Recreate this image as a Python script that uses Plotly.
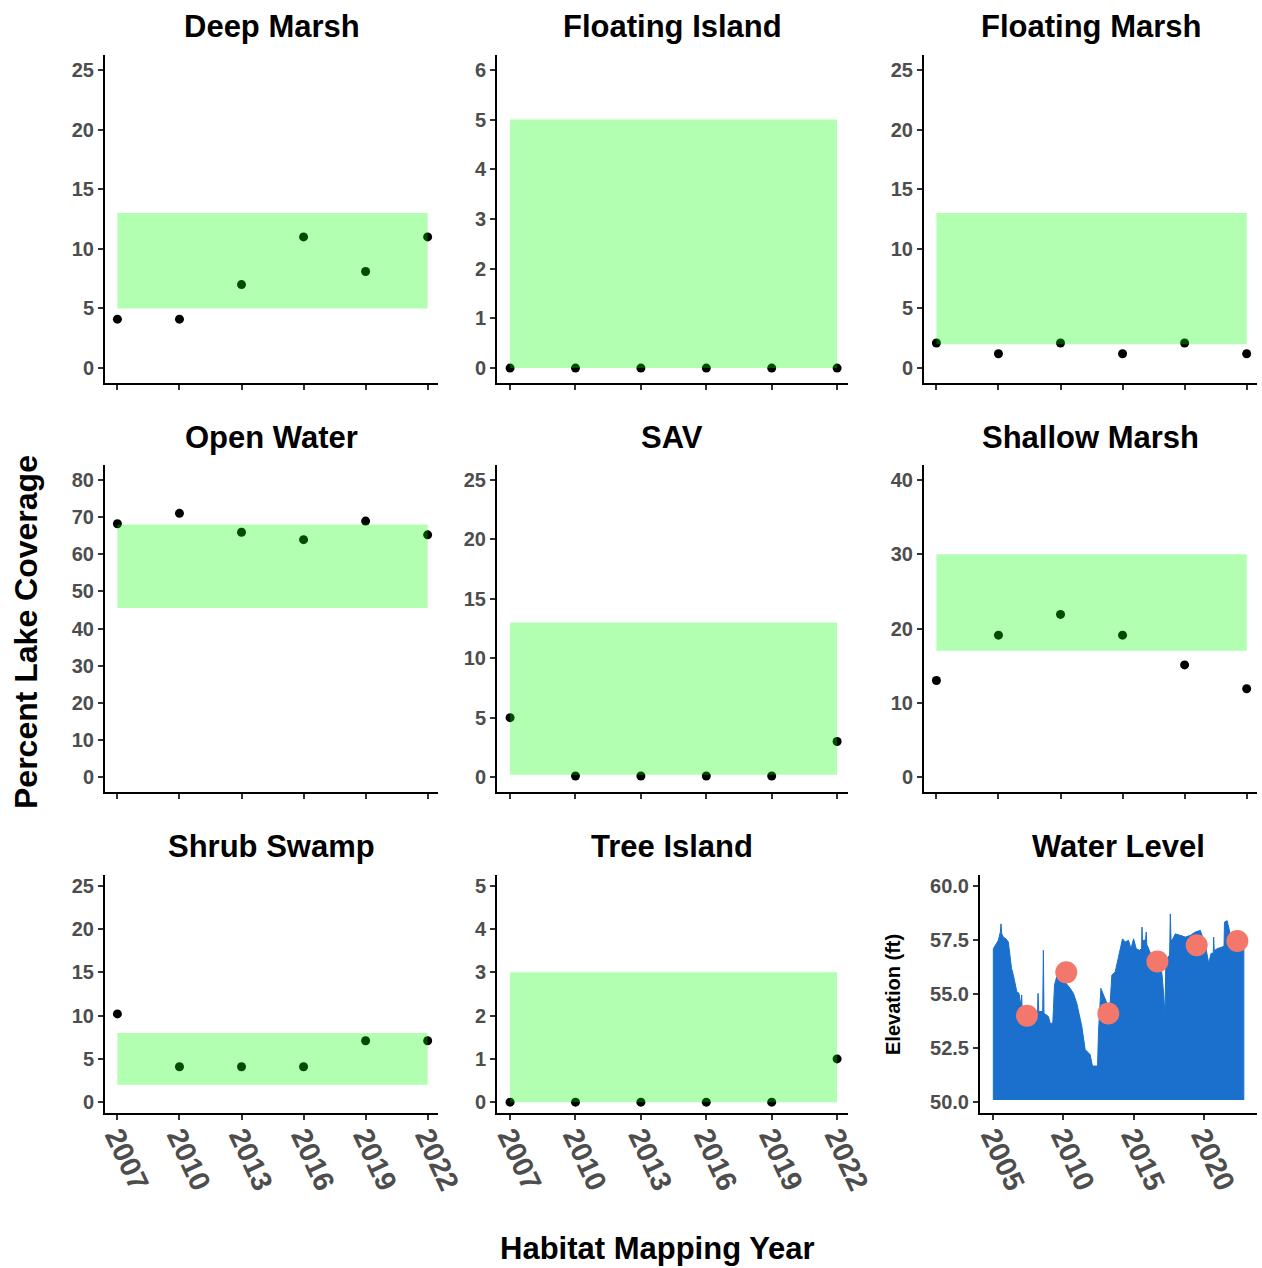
import plotly.graph_objects as go

# ---------------- data ----------------
years = [2007, 2010, 2013, 2016, 2019, 2022]
habitats = ["Deep Marsh", "Floating Island", "Floating Marsh", "Open Water",
            "SAV", "Shallow Marsh", "Shrub Swamp", "Tree Island"]
deep_marsh = [4.1, 4.1, 7.0, 11.0, 8.1, 11.0]
floating_island = [0.0, 0.0, 0.0, 0.0, 0.0, 0.0]
floating_marsh = [2.1, 1.2, 2.1, 1.2, 2.1, 1.2]
open_water = [68.2, 71.0, 65.9, 63.9, 68.9, 65.2]
sav = [5.0, 0.1, 0.1, 0.1, 0.1, 3.0]
shallow_marsh = [13.0, 19.1, 21.9, 19.1, 15.1, 11.9]
shrub_swamp = [10.2, 4.1, 4.1, 4.1, 7.1, 7.1]
tree_island = [0.0, 0.0, 0.0, 0.0, 0.0, 1.0]
target_low = [5, 0, 2, 45.5, 0.2, 17, 2, 0]
target_high = [13, 5, 13, 68, 13, 30, 8, 3]
y_max = [25, 6, 25, 80, 25, 40, 25, 5]
y_dtick = [5, 1, 5, 10, 5, 10, 5, 1]

wl_year = [2005.0, 2005.36, 2005.5, 2005.55, 2005.6, 2005.71, 2005.9, 2006.07, 2006.19, 2006.3,
           2006.43, 2006.55, 2006.67, 2006.83, 2006.98, 2007.02, 2007.06, 2007.26, 2007.5, 2007.86,
           2008.15, 2008.19, 2008.24, 2008.52, 2008.57, 2008.61, 2008.93, 2009.05, 2009.24, 2009.29,
           2009.36, 2009.52, 2010.0, 2010.48, 2010.71, 2010.95, 2011.14, 2011.31, 2011.55, 2011.9,
           2012.07, 2012.43, 2012.5, 2012.67, 2012.86, 2013.1, 2013.33, 2013.45, 2013.69, 2013.93,
           2014.21, 2014.4, 2014.64, 2014.81, 2015.0, 2015.19, 2015.43, 2015.57, 2015.6, 2015.64,
           2015.71, 2015.86, 2015.9, 2015.94, 2016.07, 2016.31, 2016.79, 2017.02, 2017.14, 2017.24,
           2017.3, 2017.57, 2017.62, 2017.67, 2017.74, 2017.98, 2018.33, 2018.69, 2019.05, 2019.4,
           2019.76, 2020.12, 2020.36, 2020.52, 2020.68, 2020.71, 2020.75, 2020.95, 2021.31, 2021.45,
           2021.48, 2021.67, 2021.86, 2022.02, 2022.38, 2022.86]
wl_elev = [57.09, 57.48, 57.86, 58.24, 57.78, 57.63, 57.55, 57.40, 56.64, 56.18,
           55.87, 55.49, 55.11, 55.03, 54.42, 54.95, 54.19, 53.96, 53.80, 54.11,
           54.19, 55.03, 54.19, 54.19, 57.02, 54.11, 53.96, 53.65, 53.65, 54.34,
           55.41, 55.80, 55.64, 55.26, 55.03, 54.57, 53.96, 53.50, 52.43, 52.20,
           51.67, 51.67, 53.27, 55.26, 54.95, 54.57, 54.57, 55.87, 56.02, 56.71,
           57.55, 57.40, 57.48, 57.09, 57.55, 57.09, 57.02, 57.10, 58.09, 57.40,
           57.48, 57.50, 57.86, 57.30, 57.09, 56.71, 56.56, 55.95, 55.03, 54.04,
           56.56, 56.80, 58.70, 57.50, 57.48, 57.78, 57.71, 57.63, 57.71, 57.86,
           57.94, 57.25, 56.41, 56.87, 56.90, 57.63, 57.00, 57.09, 57.17, 57.20,
           58.32, 58.39, 57.86, 57.48, 57.40, 57.32]
wl_base = 50.1
map_year = [2007.4, 2010.2, 2013.2, 2016.7, 2019.5, 2022.4]
map_elev = [54.0, 56.0, 54.1, 56.5, 57.25, 57.45]

values = [deep_marsh, floating_island, floating_marsh, open_water,
          sav, shallow_marsh, shrub_swamp, tree_island]

# ---------------- layout helpers ----------------
W, H = 1262, 1268
FONT = "Liberation Sans, Arial, sans-serif"
col_px = [(105, 438), (497, 848), (924, 1257)]   # page pixels
row_px = [(55, 383), (465, 792), (875, 1113)]

def px_x(p):
    return min(1.0, max(0.0, p / W))

def px_y(p):
    return min(1.0, max(0.0, 1 - p / H))

fig = go.Figure()
layout = dict(width=W, height=H, autosize=False, margin=dict(l=0, r=0, t=0, b=0, pad=0),
              paper_bgcolor="white", plot_bgcolor="white", showlegend=False,
              shapes=[], annotations=[])

def axis_common():
    return dict(showline=True, linecolor="black", linewidth=2, mirror=False,
                automargin=False,
                ticks="outside", ticklen=5, tickwidth=1.5, tickcolor="#333333",
                showgrid=False, zeroline=False,
                tickfont=dict(family=FONT, size=20, color="#4D4D4D", weight="bold"))

XTICKFONT = dict(family=FONT, size=29, color="#4D4D4D", weight="bold")

def add_title(text, xc_px, yc_px, size=31):
    layout["annotations"].append(dict(
        text=text, x=px_x(xc_px), y=px_y(yc_px), xref="paper", yref="paper",
        xanchor="center", yanchor="middle", showarrow=False,
        font=dict(family=FONT, size=size, color="black", weight="bold")))

for i, name in enumerate(habitats):
    k = i + 1
    r, c = divmod(i, 3)
    x0, x1 = col_px[c]
    y0, y1 = row_px[r]
    xa = axis_common()
    xa.update(domain=[px_x(x0), px_x(x1)], anchor=f"y{k}", range=[2006.4, 2022.5],
              tickmode="array", tickvals=years, ticktext=[str(y) for y in years])
    if r == 2:
        xa.update(showticklabels=True, tickangle=65, tickfont=XTICKFONT,
                  ticklabelstandoff=-12)
    else:
        xa.update(showticklabels=False)
    ya = axis_common()
    pad = 0.05 * y_max[i]
    ya.update(domain=[px_y(y1), px_y(y0)], anchor=f"x{k}",
              range=[-pad, y_max[i] + pad], tick0=0, dtick=y_dtick[i])
    layout[f"xaxis{k}"] = xa
    layout[f"yaxis{k}"] = ya

    fig.add_trace(go.Scatter(x=years, y=values[i], mode="markers",
                             marker=dict(color="black", size=9),
                             xaxis=f"x{k}", yaxis=f"y{k}", hoverinfo="skip"))
    layout["shapes"].append(dict(type="rect", xref=f"x{k}", yref=f"y{k}",
                                 x0=years[0], x1=years[-1],
                                 y0=target_low[i], y1=target_high[i],
                                 fillcolor="rgba(0,255,0,0.3)", line=dict(width=0),
                                 layer="above"))
    add_title(name, (x0 + x1) / 2, y0 - 28)

# Water level panel
x0, x1 = 980, 1257
y0, y1 = row_px[2]
xa = axis_common()
xa.update(domain=[px_x(x0), px_x(x1)], anchor="y9", range=[2004.05, 2023.8],
          tick0=2005, dtick=5, tickangle=65, tickfont=XTICKFONT, ticklabelstandoff=-12)
ya = axis_common()
ya.update(domain=[px_y(y1), px_y(y0)], anchor="x9", range=[49.5, 60.5],
          tick0=50, dtick=2.5, tickformat=".1f")
layout["xaxis9"] = xa
layout["yaxis9"] = ya

poly_x = [wl_year[0]] + wl_year + [wl_year[-1]]
poly_y = [wl_base] + wl_elev + [wl_base]
fig.add_trace(go.Scatter(x=poly_x, y=poly_y, mode="lines", fill="toself",
                         fillcolor="#1A70CC", line=dict(color="#1A70CC", width=1),
                         xaxis="x9", yaxis="y9", hoverinfo="skip"))
fig.add_trace(go.Scatter(x=map_year, y=map_elev, mode="markers",
                         marker=dict(color="#F3776B", size=22),
                         xaxis="x9", yaxis="y9", hoverinfo="skip"))
add_title("Water Level", (x0 + x1) / 2, y0 - 28)

# axis titles
layout["annotations"].append(dict(
    text="Elevation (ft)", x=px_x(893), y=px_y(995), xref="paper", yref="paper",
    xanchor="center", yanchor="middle", textangle=-90, showarrow=False,
    font=dict(family=FONT, size=20, color="black", weight="bold")))
layout["annotations"].append(dict(
    text="Percent Lake Coverage", x=px_x(26), y=px_y(632), xref="paper", yref="paper",
    xanchor="center", yanchor="middle", textangle=-90, showarrow=False,
    font=dict(family=FONT, size=32, color="black", weight="bold")))
layout["annotations"].append(dict(
    text="Habitat Mapping Year", x=px_x(657), y=px_y(1248), xref="paper", yref="paper",
    xanchor="center", yanchor="middle", showarrow=False,
    font=dict(family=FONT, size=31, color="black", weight="bold")))

fig.update_layout(**layout)
fig.write_html(
    "out.html",
    config={"responsive": False, "displayModeBar": False},
    post_script=("document.body.style.margin='0';"
                 "document.body.style.overflow='hidden';"
                 "document.documentElement.style.overflow='hidden';"),
)
